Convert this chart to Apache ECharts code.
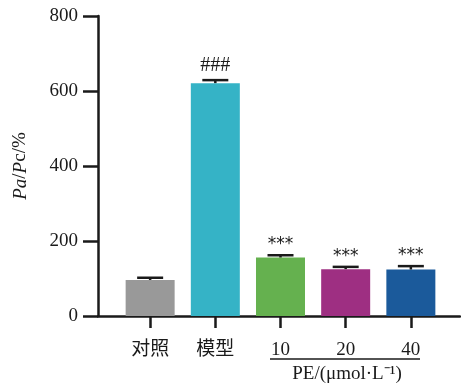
<!DOCTYPE html>
<html>
<head>
<meta charset="utf-8">
<script src="https://cdn.jsdelivr.net/npm/echarts@6/dist/echarts.min.js"></script>
<style>
  html, body { margin: 0; padding: 0; background: #fff; }
  #chart { width: 461px; height: 386px; }
</style>
</head>
<body>
<div id="chart"></div>
<script>
// Group labels, group means, upper error (SD) and significance marks
const categories = ['对照', '模型', '10', '20', '40'];
const values = [96, 621, 156, 125, 124];
const errors = [6, 8, 6, 6, 9];
const marks = ['', '###', '***', '***', '***'];
const barColors = ['#999999', '#35b3c6', '#65b14f', '#9e2f82', '#1b5a9b'];
const yTicks = [0, 200, 400, 600, 800];
const positions = [1, 2, 3, 4, 5];

const ink = '#1a1a1a';
const serif = '"Liberation Serif", "Times New Roman", serif';
const cjk = '"Liberation Serif", "Noto Sans CJK SC", serif';

const chart = echarts.init(document.getElementById('chart'));

const barData = values.map((v, i) => ({
  value: [positions[i], v],
  itemStyle: { color: barColors[i] }
}));
const errData = values.map((v, i) => [positions[i], v, errors[i], i]);

chart.setOption({
  animation: false,
  backgroundColor: '#fff',
  grid: { left: 98, right: 1, top: 16, bottom: 70 },
  xAxis: {
    type: 'value',
    min: 0.2,
    max: 5.754,
    splitLine: { show: false },
    axisLine: { show: true, lineStyle: { color: ink, width: 2.5 } },
    axisTick: {
      show: true, customValues: positions, length: 12, inside: false,
      lineStyle: { color: ink, width: 2.5 }
    },
    axisLabel: {
      customValues: positions,
      margin: 25,
      fontSize: 19,
      fontFamily: cjk,
      fontWeight: 'normal',
      color: ink,
      formatter: (v) => categories[Math.round(v) - 1] || ''
    }
  },
  yAxis: {
    type: 'value',
    min: 0,
    max: 800,
    interval: 200,
    name: '{i|Pa}{n|/}{i|P}{n|c/%}',
    nameLocation: 'middle',
    nameGap: 68,
    nameRotate: 90,
    nameTextStyle: {
      rich: {
        i: { fontFamily: serif, fontSize: 19, fontStyle: 'italic', color: ink },
        n: { fontFamily: serif, fontSize: 19, color: ink }
      }
    },
    splitLine: { show: false },
    axisLine: { show: true, lineStyle: { color: ink, width: 2.5 } },
    axisTick: { show: true, length: 15, inside: false, lineStyle: { color: ink, width: 2.5 } },
    axisLabel: {
      margin: 20,
      fontSize: 19,
      fontFamily: serif,
      color: ink,
      customValues: yTicks
    }
  },
  series: [
    {
      type: 'bar',
      data: barData,
      barWidth: 49,
      z: 2
    },
    {
      type: 'custom',
      data: errData,
      z: 3,
      renderItem: function (params, api) {
        const x = api.value(0);
        const mean = api.value(1);
        const err = api.value(2);
        const idx = api.value(3);
        const base = api.coord([x, mean]);
        const top = api.coord([x, mean + err]);
        const half = 13;
        const style = { stroke: ink, lineWidth: 2.5 };
        const children = [
          { type: 'line', shape: { x1: base[0], y1: base[1], x2: top[0], y2: top[1] }, style: style },
          { type: 'line', shape: { x1: top[0] - half, y1: top[1], x2: top[0] + half, y2: top[1] }, style: style }
        ];
        if (marks[idx]) {
          const isHash = marks[idx].charAt(0) === '#';
          children.push({
            type: 'text',
            x: top[0],
            y: top[1] - (isHash ? 4 : 2),
            style: {
              text: marks[idx],
              fill: ink,
              font: isHash ? '20px ' + serif : '17px "DejaVu Sans", sans-serif',
              textAlign: 'center',
              textVerticalAlign: 'bottom'
            }
          });
        }
        return { type: 'group', children: children };
      }
    }
  ],
  graphic: [
    {
      type: 'line',
      shape: { x1: 270, y1: 359, x2: 420, y2: 359 },
      style: { stroke: ink, lineWidth: 1.5 }
    },
    {
      type: 'text',
      x: 347,
      y: 374,
      style: {
        text: 'PE/(μmol·L⁻¹)',
        font: '19px ' + serif,
        fill: ink,
        textAlign: 'center',
        textVerticalAlign: 'middle'
      }
    }
  ]
});
</script>
</body>
</html>
